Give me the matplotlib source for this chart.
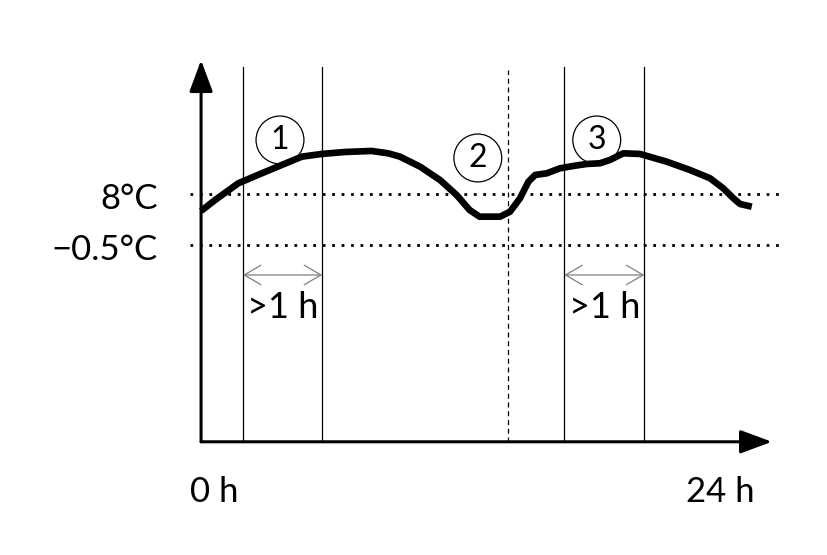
import matplotlib.pyplot as plt

# temperature curve over the day (hours, °C) - schematic values
hours = [0.0, 0.65, 1.72, 2.81, 3.73, 4.66, 5.58, 6.66, 7.89, 8.65, 9.2,
         10.13, 11.05, 11.82, 12.42, 12.88, 13.83, 14.29, 14.75, 15.14, 15.45,
         15.99, 16.6, 17.22, 17.84, 18.45, 18.91, 19.53, 20.3, 21.54, 22.61,
         23.54, 24.15, 24.62, 24.93, 25.47]
temps = [5.17, 7.0, 9.78, 11.45, 12.83, 14.22, 14.67, 15.0, 15.17, 14.78, 14.22,
         12.55, 10.33, 7.83, 5.33, 4.22, 4.22, 5.05, 7.28, 10.05, 11.17,
         11.45, 12.28, 12.67, 13.0, 13.12, 13.67, 14.78, 14.67, 13.38, 12.0,
         10.62, 8.95, 7.28, 6.33, 5.88]

thresholds = [8.0, -0.5]
threshold_labels = ['8°C', '\u22120.5°C']
window_lines = [1.94, 5.6, 16.8, 20.5]   # solid vertical lines
split_line = 14.2                         # dashed vertical line
windows = [(1.94, 5.6), (16.8, 20.5)]
window_text = '>1 h'
markers = ['1', '2', '3']
marker_pos = [(3.65, 17.0), (12.8, 14.0), (18.3, 17.0)]
x_ticks = [0, 24]
x_tick_labels = ['0 h', '24 h']

# layout of the drawing (data units)
y_base = -33.3
y_top = 30.3
x_end = 26.4
line_top = 29.2

plt.rcParams['font.family'] = ['Lato', 'DejaVu Sans']
fig = plt.figure(figsize=(8.27, 5.55), dpi=100)
ax = fig.add_axes([0, 0, 1, 1])
ax.set_xlim(-9.3, 28.95)
ax.set_ylim(-52.17, 40.33)
ax.axis('off')

# axes with arrows
arrow = dict(arrowstyle='-|>,head_length=0.97,head_width=0.36', color='black',
             lw=2.2, shrinkA=0, shrinkB=0, mutation_scale=20)
ax.annotate('', xy=(0, y_top), xytext=(0, y_base), arrowprops=arrow)
ax.annotate('', xy=(x_end, y_base), xytext=(0, y_base), arrowprops=arrow)

# threshold lines
for t, lab in zip(thresholds, threshold_labels):
    ax.plot([-0.5, 26.9], [t, t], color='black', lw=2.0,
            linestyle=(0, (1, 2.4)), dash_capstyle='butt')
    ax.text(-2.0, t - 0.8, lab, ha='right', va='center', fontsize=25)

# vertical lines
for x in window_lines:
    ax.plot([x, x], [y_base, line_top], color='black', lw=0.9)
ax.plot([split_line, split_line], [y_base, line_top - 0.5], color='black',
        lw=0.9, linestyle=(0, (4, 3)))

# temperature curve
ax.plot(hours, temps, color='black', lw=4.8, solid_joinstyle='round',
        solid_capstyle='butt')

# duration arrows
for a, b in windows:
    ax.annotate('', xy=(b, -5.5), xytext=(a, -5.5),
                arrowprops=dict(arrowstyle='<->,head_length=0.6,head_width=0.35',
                                color='#808080', lw=0.9, shrinkA=0, shrinkB=0,
                                mutation_scale=20))
    ax.text((a + b) / 2, -11.0, window_text, ha='center', va='center',
            fontsize=26)

# circled numbers
for m, (x, y) in zip(markers, marker_pos):
    ax.text(x, y, m, ha='center', va='center', fontsize=23,
            bbox=dict(boxstyle='circle,pad=0.28', fc='none', ec='black', lw=0.9))

# x labels
for x, lab in zip(x_ticks, x_tick_labels):
    ax.text(x + (0.6 if x == 0 else 0.0), -41.7, lab, ha='center', va='center',
            fontsize=25)

fig.savefig('out.png', dpi=100)
